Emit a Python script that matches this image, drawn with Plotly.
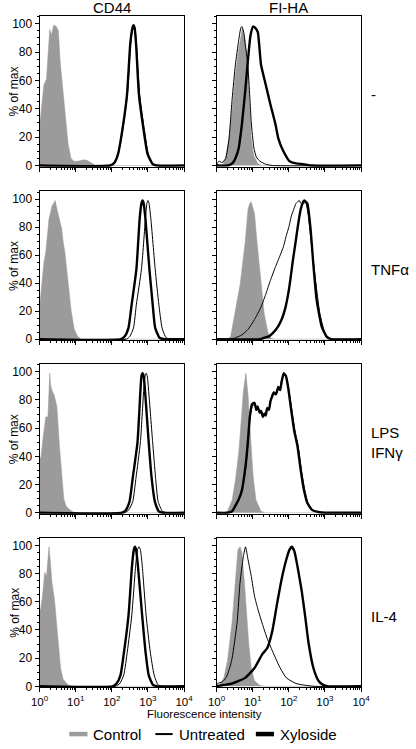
import numpy as np
import plotly.graph_objects as go

# ---------------- data (x given as log10 fluorescence intensity, y = % of max) -------------
row_labels = ["-", "TNFα", "LPS<br>IFNγ", "IL-4"]
col_titles = ["CD44", "FI-HA"]
x_tick_vals = [1, 10, 100, 1000, 10000]
x_tick_text = ["10<sup>0</sup>", "10<sup>1</sup>", "10<sup>2</sup>", "10<sup>3</sup>", "10<sup>4</sup>"]
y_tick_vals = [0, 20, 40, 60, 80, 100]

# CD44, row 1 (-)
a1_ctrl_e = [0, 0.05, 0.12, 0.19, 0.24, 0.28, 0.33, 0.39, 0.46, 0.52, 0.57, 0.65, 0.72, 0.79, 0.87, 0.95, 1.05, 1.15, 1.23, 1.32, 1.42, 1.49, 1.55, 4.0]
a1_ctrl_v = [28, 40, 57, 61, 80, 96, 92, 99, 98, 95, 73, 52, 31, 15, 5, 3, 3, 3.5, 4, 3.5, 2, 0.5, 0, 0]
a1_unt_e = [0, 1.95, 2.09, 2.18, 2.3, 2.43, 2.52, 2.58, 2.61, 2.64, 2.68, 2.77, 2.9, 3.01, 3.15, 3.27, 4.0]
a1_unt_v = [0, 0, 2, 8, 25, 50, 86, 97, 99, 97, 86, 50, 25, 8, 1, 0, 0]
a1_xyl_e = [0, 1.95, 2.07, 2.17, 2.29, 2.42, 2.51, 2.57, 2.6, 2.63, 2.67, 2.75, 2.88, 2.99, 3.13, 3.25, 4.0]
a1_xyl_v = [0, 0, 2, 8, 25, 50, 86, 97, 99, 97, 86, 50, 25, 8, 1, 0, 0]

# CD44, row 2 (TNFα)
a2_ctrl_e = [0, 0.04, 0.08, 0.12, 0.17, 0.22, 0.26, 0.30, 0.34, 0.39, 0.43, 0.48, 0.52, 0.57, 0.61, 0.65, 0.7, 0.75, 0.79, 0.83, 0.87, 0.92, 0.96, 1.05, 1.15, 4.0]
a2_ctrl_v = [23, 35, 46, 55, 62, 75, 86, 90, 95, 97, 99, 93, 88, 82, 79, 70, 62, 50, 39, 30, 21, 13, 7, 2, 0, 0]
a2_unt_e = [0, 2.4, 2.5, 2.6, 2.68, 2.82, 2.93, 2.97, 3.0, 3.03, 3.08, 3.2, 3.3, 3.39, 3.5, 3.62, 4.0]
a2_unt_v = [0, 0, 2, 8, 25, 50, 86, 97, 99, 97, 86, 50, 25, 8, 1, 0, 0]
a2_xyl_e = [0, 2.25, 2.36, 2.46, 2.55, 2.68, 2.77, 2.82, 2.85, 2.88, 2.93, 3.04, 3.13, 3.2, 3.32, 3.45, 4.0]
a2_xyl_v = [0, 0, 2, 8, 25, 50, 86, 97, 99, 97, 86, 50, 25, 8, 1, 0, 0]

# CD44, row 3 (LPS IFNγ)
a3_ctrl_e = [0, 0.03, 0.10, 0.17, 0.23, 0.26, 0.28, 0.31, 0.34, 0.41, 0.48, 0.55, 0.61, 0.67, 0.73, 0.79, 0.92, 1.0, 4.0]
a3_ctrl_v = [40, 38, 54, 68, 68, 85, 99, 90, 87, 83, 75, 47, 26, 10, 5, 3, 0.7, 0, 0]
a3_unt_e = [0, 2.35, 2.47, 2.58, 2.67, 2.79, 2.88, 2.92, 2.95, 2.98, 3.02, 3.13, 3.21, 3.28, 3.4, 3.52, 4.0]
a3_unt_v = [0, 0, 2, 8, 25, 50, 86, 97, 99, 97, 86, 50, 25, 8, 1, 0, 0]
a3_xyl_e = [0, 2.28, 2.39, 2.49, 2.58, 2.71, 2.79, 2.82, 2.85, 2.88, 2.92, 3.02, 3.1, 3.19, 3.3, 3.42, 4.0]
a3_xyl_v = [0, 0, 2, 8, 25, 50, 86, 97, 99, 97, 86, 50, 25, 8, 1, 0, 0]

# CD44, row 4 (IL-4)
a4_ctrl_e = [0, 0.03, 0.08, 0.14, 0.19, 0.23, 0.26, 0.30, 0.34, 0.41, 0.46, 0.52, 0.58, 0.65, 0.79, 0.9, 4.0]
a4_ctrl_v = [53, 55, 64, 81, 78, 88, 99, 88, 74, 62, 46, 27, 13, 5, 1, 0, 0]
a4_unt_e = [0, 2.1, 2.22, 2.33, 2.43, 2.55, 2.66, 2.71, 2.75, 2.79, 2.84, 2.95, 3.06, 3.17, 3.28, 3.4, 4.0]
a4_unt_v = [0, 0, 2, 8, 25, 50, 86, 97, 99, 97, 86, 50, 25, 8, 1, 0, 0]
a4_xyl_e = [0, 2.02, 2.13, 2.24, 2.34, 2.46, 2.56, 2.61, 2.64, 2.67, 2.72, 2.84, 2.93, 3.02, 3.14, 3.26, 4.0]
a4_xyl_v = [0, 0, 2, 8, 25, 50, 86, 97, 99, 97, 86, 50, 25, 8, 1, 0, 0]

# FI-HA, row 1 (-)
b1_ctrl_e = [0, 0.17, 0.26, 0.34, 0.43, 0.52, 0.61, 0.67, 0.715, 0.75, 0.79, 0.86, 0.92, 0.96, 1.03, 1.14, 1.25, 4.0]
b1_ctrl_v = [0, 0, 7, 19, 40, 64, 82, 92, 97, 93, 89, 71, 40, 19, 7, 1.5, 0, 0]
b1_unt_e = [0, 0.03, 0.08, 0.15, 0.25, 0.34, 0.43, 0.52, 0.61, 0.67, 0.70, 0.75, 0.79, 0.86, 0.92, 0.96, 1.03, 1.1, 1.2, 1.35, 1.55, 4.0]
b1_unt_v = [0, 2, 3, 2, 5, 18, 47, 71, 88, 97, 98, 94, 86, 72, 48, 30, 13, 6, 3, 1, 0, 0]
b1_xyl_e = [0, 0.3, 0.41, 0.48, 0.55, 0.61, 0.70, 0.79, 0.87, 0.94, 1.01, 1.07, 1.14, 1.23, 1.36, 1.49, 1.63, 1.71, 1.85, 2.02, 2.2, 2.4, 2.64, 4.0]
b1_xyl_v = [0, 0, 1, 3, 7, 12, 29, 52, 75, 92, 98, 97, 94, 71, 57, 43, 29, 19, 10, 3, 1.5, 1, 0, 0]

# FI-HA, row 2 (TNFα)
b2_ctrl_e = [0, 0.3, 0.39, 0.52, 0.65, 0.79, 0.87, 0.92, 0.96, 1.0, 1.05, 1.12, 1.21, 1.32, 1.42, 1.49, 1.6, 4.0]
b2_ctrl_v = [0, 0, 2, 21, 39, 69, 93, 97, 98, 94, 90, 69, 44, 18, 5, 1, 0, 0]
b2_unt_e = [0, 0.4, 0.52, 0.7, 0.87, 1.05, 1.23, 1.36, 1.49, 1.62, 1.76, 1.85, 1.93, 2.0, 2.07, 2.14, 2.2, 2.29, 2.33, 2.38, 2.46, 2.53, 2.6, 2.73, 2.86, 2.99, 3.08, 3.2, 4.0]
b2_unt_v = [0, 0, 1, 3, 7, 14, 23, 32, 42, 51, 60, 66, 74, 80, 88, 93, 97, 99, 97, 96, 98, 90, 74, 44, 18, 5, 1, 0, 0]
b2_xyl_e = [0, 1.2, 1.32, 1.45, 1.58, 1.7, 1.8, 1.9, 1.98, 2.05, 2.11, 2.18, 2.24, 2.33, 2.42, 2.51, 2.6, 2.68, 2.77, 2.91, 3.04, 3.17, 4.0]
b2_xyl_v = [0, 0, 1, 2, 5, 9, 14, 22, 32, 44, 56, 68, 79, 93, 99, 97, 79, 53, 28, 9, 2, 0, 0]

# FI-HA, row 3 (LPS IFNγ)
b3_ctrl_e = [0, 0.22, 0.3, 0.43, 0.52, 0.61, 0.68, 0.74, 0.81, 0.87, 0.94, 1.01, 1.09, 1.23, 1.35, 4.0]
b3_ctrl_v = [0, 0, 1, 9, 23, 42, 65, 86, 99, 84, 54, 26, 9, 1, 0, 0]
b3_unt_e = [0, 0.3, 0.43, 0.52, 0.62, 0.70, 0.77, 0.83, 0.88, 0.92, 0.98, 1.05, 1.10, 1.14, 1.19, 1.23, 1.28, 1.32, 1.36, 1.40, 1.45, 1.49, 1.53, 1.58, 1.64, 1.71, 1.76, 1.8, 1.86, 1.92, 1.99, 2.09, 2.17, 2.26, 2.35, 2.44, 2.53, 2.66, 2.84, 3.0, 4.0]
b3_unt_v = [0, 0, 1, 4, 9, 15, 25, 38, 53, 66, 75, 77, 75, 76, 72, 73, 69, 71, 70, 75, 74, 80, 83, 86, 85, 90, 88, 94, 98, 97, 89, 72, 58, 47, 30, 16, 7, 2, 0.5, 0, 0]
b3_xyl_e = [0, 0.3, 0.43, 0.52, 0.62, 0.70, 0.77, 0.83, 0.88, 0.92, 0.98, 1.05, 1.10, 1.14, 1.19, 1.23, 1.28, 1.32, 1.36, 1.40, 1.45, 1.49, 1.53, 1.58, 1.64, 1.71, 1.76, 1.8, 1.86, 1.92, 1.98, 2.07, 2.15, 2.24, 2.33, 2.42, 2.51, 2.64, 2.82, 3.0, 4.0]
b3_xyl_v = [0, 0, 1, 5, 10, 16, 27, 40, 55, 68, 77, 78, 73, 75, 71, 72, 68, 70, 69, 74, 73, 79, 82, 85, 84, 89, 87, 93, 99, 97, 89, 72, 58, 47, 30, 16, 7, 2, 0.5, 0, 0]

# FI-HA, row 4 (IL-4)
b4_ctrl_e = [0, 0.08, 0.2, 0.3, 0.43, 0.52, 0.59, 0.65, 0.70, 0.77, 0.83, 0.89, 0.96, 1.05, 1.18, 1.3, 4.0]
b4_ctrl_v = [0, 1, 6, 18, 46, 76, 97, 99, 95, 74, 51, 30, 13, 4, 1, 0, 0]
b4_unt_e = [0, 0.03, 0.15, 0.26, 0.35, 0.43, 0.57, 0.65, 0.74, 0.80, 0.87, 0.96, 1.05, 1.14, 1.27, 1.40, 1.58, 1.76, 1.93, 2.2, 2.46, 2.7, 4.0]
b4_unt_v = [0, 2, 3, 6, 12, 20, 46, 74, 92, 99, 90, 78, 64, 55, 44, 34, 23, 13, 6, 2, 0.7, 0, 0]
b4_xyl_e = [0, 0.2, 0.43, 0.79, 1.05, 1.27, 1.40, 1.54, 1.67, 1.8, 1.93, 2.02, 2.08, 2.15, 2.24, 2.36, 2.46, 2.55, 2.68, 2.82, 2.95, 3.1, 4.0]
b4_xyl_v = [0, 1, 2, 6, 13, 23, 27, 39, 58, 76, 90, 97, 99, 96, 85, 67, 48, 30, 13, 4, 1, 0, 0]

panels = [
    [(a1_ctrl_e, a1_ctrl_v), (a1_unt_e, a1_unt_v), (a1_xyl_e, a1_xyl_v)],
    [(b1_ctrl_e, b1_ctrl_v), (b1_unt_e, b1_unt_v), (b1_xyl_e, b1_xyl_v)],
    [(a2_ctrl_e, a2_ctrl_v), (a2_unt_e, a2_unt_v), (a2_xyl_e, a2_xyl_v)],
    [(b2_ctrl_e, b2_ctrl_v), (b2_unt_e, b2_unt_v), (b2_xyl_e, b2_xyl_v)],
    [(a3_ctrl_e, a3_ctrl_v), (a3_unt_e, a3_unt_v), (a3_xyl_e, a3_xyl_v)],
    [(b3_ctrl_e, b3_ctrl_v), (b3_unt_e, b3_unt_v), (b3_xyl_e, b3_xyl_v)],
    [(a4_ctrl_e, a4_ctrl_v), (a4_unt_e, a4_unt_v), (a4_xyl_e, a4_xyl_v)],
    [(b4_ctrl_e, b4_ctrl_v), (b4_unt_e, b4_unt_v), (b4_xyl_e, b4_xyl_v)],
]

# ---------------- layout ----------------
W, H = 416, 749
FONT = "Arial, Liberation Sans, sans-serif"
GRAY = "#9b9b9b"
col_px = [(32, 183), (217, 368)]
row_px = [(16, 168), (193, 343), (367, 518), (542, 693)]

fig = go.Figure()
layout = dict(
    width=W, height=H, margin=dict(l=0, r=0, t=0, b=0),
    paper_bgcolor="white", plot_bgcolor="white", showlegend=False,
    font=dict(family=FONT, color="black", size=12),
)

for k, series in enumerate(panels):
    r, c = divmod(k, 2)
    n = k + 1
    xa = "x" if n == 1 else f"x{n}"
    ya = "y" if n == 1 else f"y{n}"
    (ce, cv), (ue, uv), (xe, xv) = series
    fig.add_trace(go.Scatter(x=np.power(10.0, ce), y=cv, mode="lines", fill="tozeroy",
                             fillcolor=GRAY, line=dict(color=GRAY, width=0.5),
                             xaxis=xa, yaxis=ya, name="Control"))
    fig.add_trace(go.Scatter(x=np.power(10.0, ue), y=uv, mode="lines",
                             line=dict(color="black", width=1, shape="spline", smoothing=0.5),
                             xaxis=xa, yaxis=ya, name="Untreated"))
    fig.add_trace(go.Scatter(x=np.power(10.0, xe), y=xv, mode="lines",
                             line=dict(color="black", width=2.4, shape="spline", smoothing=0.5),
                             xaxis=xa, yaxis=ya, name="Xyloside"))
    x0, x1 = col_px[c]
    t, b = row_px[r]
    xkey = "xaxis" if n == 1 else f"xaxis{n}"
    ykey = "yaxis" if n == 1 else f"yaxis{n}"
    layout[xkey] = dict(
        type="log", range=[0, 4], domain=[x0 / W, x1 / W], anchor=ya,
        showline=True, mirror=True, linecolor="black", linewidth=1,
        ticks="outside", ticklen=4, tickcolor="black",
        tickmode="array", tickvals=x_tick_vals, ticktext=x_tick_text,
        showticklabels=(r == 3), tickfont=dict(size=11.5, family=FONT),
        minor=dict(ticks="outside", ticklen=2, tickcolor="black", dtick="D1"),
        showgrid=False, zeroline=False, fixedrange=True,
    )
    layout[ykey] = dict(
        range=[-0.8, 105.5], domain=[1 - b / H, 1 - t / H], anchor=xa,
        showline=True, mirror=True, linecolor="black", linewidth=1,
        ticks="outside", ticklen=4, tickcolor="black",
        tickvals=y_tick_vals, showticklabels=(c == 0),
        tickfont=dict(size=12, family=FONT),
        minor=dict(ticks="outside", ticklen=2, tickcolor="black", dtick=5),
        showgrid=False, zeroline=False, fixedrange=True,
    )

fig.update_layout(**layout)

ann = []
# column titles
for c, title in enumerate(col_titles):
    x0, x1 = col_px[c]
    ann.append(dict(text=title, x=(x0 + x1) / 2 / W, y=1 - 8 / H, xref="paper", yref="paper",
                    showarrow=False, font=dict(size=15, family=FONT), xanchor="center", yanchor="middle"))
# row labels
for r, lab in enumerate(row_labels):
    t, b = row_px[r]
    ann.append(dict(text=lab, x=376 / W, y=1 - ((t + b) / 2 + 3.5) / H, xref="paper", yref="paper",
                    showarrow=False, font=dict(size=15, family=FONT), xanchor="left", yanchor="middle",
                    align="left"))
# y titles
for r in range(4):
    t, b = row_px[r]
    ann.append(dict(text="% of max", x=5.5 / W, y=1 - (t + b) / 2 / H, xref="paper", yref="paper",
                    showarrow=False, textangle=-90, font=dict(size=12, family=FONT),
                    xanchor="center", yanchor="middle"))
# x title
ann.append(dict(text="Fluorescence intensity", x=204 / W, y=1 - 720 / H, xref="paper", yref="paper",
                showarrow=False, font=dict(size=11.5, family=FONT), xanchor="center", yanchor="middle"))
# legend texts
leg_y = 1 - 740 / H
for txt, xp in [("Control", 86), ("Untreated", 176), ("Xyloside", 281)]:
    ann.append(dict(text=txt, x=xp / W, y=leg_y, xref="paper", yref="paper", showarrow=False,
                    font=dict(size=15, family=FONT), xanchor="left", yanchor="middle"))
fig.update_layout(annotations=ann)

shapes = [
    dict(type="line", xref="paper", yref="paper", x0=63 / W, x1=82 / W, y0=leg_y, y1=leg_y,
         line=dict(color=GRAY, width=4.5)),
    dict(type="line", xref="paper", yref="paper", x0=153 / W, x1=171 / W, y0=leg_y, y1=leg_y,
         line=dict(color="black", width=2)),
    dict(type="line", xref="paper", yref="paper", x0=258 / W, x1=277 / W, y0=leg_y, y1=leg_y,
         line=dict(color="black", width=4.5)),
]
fig.update_layout(shapes=shapes)

fig.write_html("out.html", config={"displayModeBar": False},
               post_script="document.body.style.margin='0';document.body.style.overflow='hidden';")
